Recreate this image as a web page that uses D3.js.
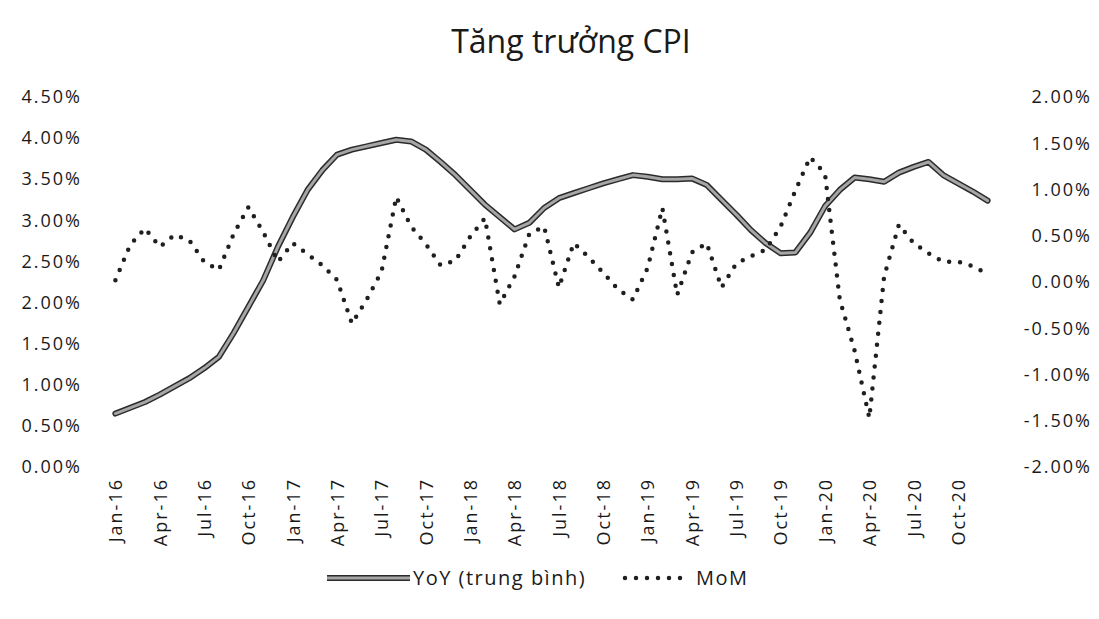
<!DOCTYPE html>
<html>
<head>
<meta charset="utf-8">
<script src="https://cdn.jsdelivr.net/npm/d3@7"></script>
<style>
  body { margin: 0; background: #ffffff; }
  text { font-family: "Open Sans", sans-serif; fill: #1a1a1a; }
</style>
</head>
<body>
<div id="mainplot"></div>
<script>
// month categories
var months = ["Jan-16","Feb-16","Mar-16","Apr-16","May-16","Jun-16","Jul-16","Aug-16","Sep-16","Oct-16","Nov-16","Dec-16",
              "Jan-17","Feb-17","Mar-17","Apr-17","May-17","Jun-17","Jul-17","Aug-17","Sep-17","Oct-17","Nov-17","Dec-17",
              "Jan-18","Feb-18","Mar-18","Apr-18","May-18","Jun-18","Jul-18","Aug-18","Sep-18","Oct-18","Nov-18","Dec-18",
              "Jan-19","Feb-19","Mar-19","Apr-19","May-19","Jun-19","Jul-19","Aug-19","Sep-19","Oct-19","Nov-19","Dec-19",
              "Jan-20","Feb-20","Mar-20","Apr-20","May-20","Jun-20","Jul-20","Aug-20","Sep-20","Oct-20","Nov-20","Dec-20"];

// YoY (trung binh), left axis, %
var yoy = [0.65,0.72,0.79,0.88,0.98,1.08,1.20,1.34,1.63,1.95,2.27,2.68,
           3.04,3.37,3.61,3.80,3.86,3.90,3.94,3.98,3.96,3.86,3.71,3.55,
           3.37,3.19,3.04,2.89,2.97,3.15,3.27,3.33,3.39,3.45,3.50,3.55,
           3.53,3.50,3.50,3.51,3.43,3.25,3.07,2.88,2.72,2.60,2.61,2.85,
           3.17,3.37,3.52,3.50,3.47,3.58,3.65,3.71,3.55,3.45,3.35,3.24];

// MoM, right axis, %
var mom = [0.02,0.40,0.58,0.38,0.51,0.45,0.22,0.13,0.52,0.81,0.54,0.22,
           0.42,0.30,0.18,0.02,-0.45,-0.19,0.11,0.92,0.60,0.41,0.18,0.23,
           0.49,0.69,-0.24,0.06,0.52,0.60,-0.06,0.42,0.27,0.10,-0.08,-0.19,
           0.15,0.80,-0.14,0.32,0.42,-0.06,0.20,0.28,0.35,0.60,0.99,1.35,
           1.17,-0.19,-0.74,-1.47,0.06,0.62,0.42,0.31,0.22,0.22,0.17,0.09];

var leftTicks = [0,0.5,1,1.5,2,2.5,3,3.5,4,4.5];
var rightTicks = [-2,-1.5,-1,-0.5,0,0.5,1,1.5,2];
var xTickLabels = months.filter(function(d, i){ return i % 3 == 0; });

var title = "Tăng trưởng CPI";
var seriesNames = ["YoY (trung bình)", "MoM"];

var outerWidth = 1099, outerHeight = 619;
var plot = {left: 108, right: 995, top: 97, bottom: 467};

var svg = d3.select('#mainplot').append('svg')
    .attr('width', outerWidth)
    .attr('height', outerHeight);

// scales
var Xscale = d3.scalePoint()
    .domain(months)
    .range([plot.left, plot.right])
    .padding(0.5);

var YscaleL = d3.scaleLinear()
    .domain([0, 4.5])
    .range([plot.bottom, plot.top]);

var YscaleR = d3.scaleLinear()
    .domain([-2, 2])
    .range([plot.bottom, plot.top]);

var pct = function(d){ return d.toFixed(2) + "%"; };

// title
svg.append('text')
    .attr('x', 571)
    .attr('y', 53)
    .style('text-anchor', 'middle')
    .style('font-size', '32px')
    .text(title);

// left axis
var axisL = svg.append("g")
    .attr("transform", "translate(" + 82 + ",0)")
    .call(d3.axisLeft(YscaleL).tickValues(leftTicks).tickFormat(pct).tickSize(0).tickPadding(0));
axisL.select(".domain").remove();
axisL.selectAll("text")
    .style("font-size", "18px")
    .style("letter-spacing", "2px")
    .style("font-family", '"Open Sans", sans-serif')
    .attr("fill", "#1a1a1a");

// right axis
var axisR = svg.append("g")
    .attr("transform", "translate(" + 1092 + ",0)")
    .call(d3.axisLeft(YscaleR).tickValues(rightTicks).tickFormat(pct).tickSize(0).tickPadding(0));
axisR.select(".domain").remove();
axisR.selectAll("text")
    .style("font-size", "18px")
    .style("letter-spacing", "2px")
    .style("font-family", '"Open Sans", sans-serif')
    .attr("fill", "#1a1a1a");

// x axis, rotated month labels
var axisX = svg.append("g")
    .attr("transform", "translate(0," + 478 + ")")
    .call(d3.axisBottom(Xscale).tickValues(xTickLabels).tickSize(0).tickPadding(0));
axisX.select(".domain").remove();
axisX.selectAll("text")
    .style("font-size", "18px")
    .style("letter-spacing", "2px")
    .style("font-family", '"Open Sans", sans-serif')
    .attr("fill", "#1a1a1a")
    .attr("y", 0)
    .attr("x", 0)
    .attr("dy", "0.35em")
    .attr("transform", "rotate(-90)")
    .style("text-anchor", "end");

// lines
var YoYLine = d3.line()
    .x(function(d, i){ return Xscale(months[i]); })
    .y(function(d){ return YscaleL(d); });

var MoMLine = d3.line()
    .x(function(d, i){ return Xscale(months[i]); })
    .y(function(d){ return YscaleR(d); });

svg.append("path")
    .datum(yoy)
    .attr("d", YoYLine)
    .style("fill", "none")
    .style("stroke", "#2b2b2b")
    .style("stroke-width", 6)
    .style("stroke-linejoin", "round")
    .style("stroke-linecap", "round");

svg.append("path")
    .datum(yoy)
    .attr("d", YoYLine)
    .style("fill", "none")
    .style("stroke", "#a6a6a6")
    .style("stroke-width", 3)
    .style("stroke-linejoin", "round")
    .style("stroke-linecap", "round");

svg.append("path")
    .datum(mom)
    .attr("d", MoMLine)
    .style("fill", "none")
    .style("stroke", "#1f1f1f")
    .style("stroke-width", 4.5)
    .style("stroke-linecap", "round")
    .style("stroke-dasharray", "0 11");

// legend
var legend = svg.append("g");

legend.append("line")
    .attr("x1", 327).attr("x2", 410)
    .attr("y1", 578).attr("y2", 578)
    .style("stroke", "#2b2b2b")
    .style("stroke-width", 6);
legend.append("line")
    .attr("x1", 327).attr("x2", 410)
    .attr("y1", 578).attr("y2", 578)
    .style("stroke", "#a6a6a6")
    .style("stroke-width", 3);
legend.append("text")
    .attr("x", 413).attr("y", 578)
    .attr("dy", "0.35em")
    .style("font-size", "20px")
    .style("letter-spacing", "1.5px")
    .text(seriesNames[0]);

legend.append("line")
    .attr("x1", 625).attr("x2", 690)
    .attr("y1", 578).attr("y2", 578)
    .style("stroke", "#1f1f1f")
    .style("stroke-width", 4.5)
    .style("stroke-linecap", "round")
    .style("stroke-dasharray", "0 11");
legend.append("text")
    .attr("x", 696).attr("y", 578)
    .attr("dy", "0.35em")
    .style("font-size", "20px")
    .style("letter-spacing", "1.5px")
    .text(seriesNames[1]);
</script>
</body>
</html>
